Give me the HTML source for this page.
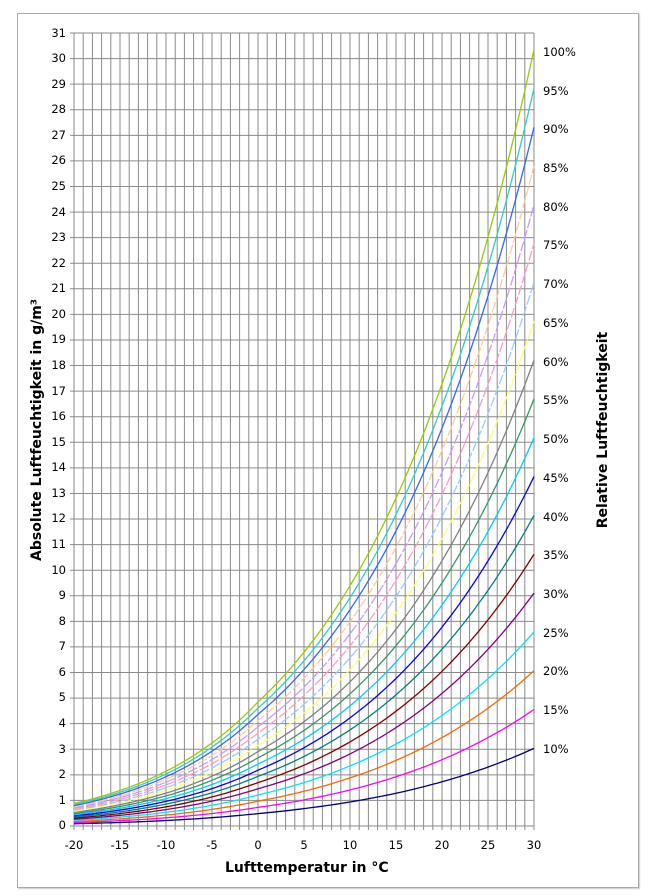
<!DOCTYPE html>
<html><head><meta charset="utf-8"><style>
body{margin:0;background:#fff;font-family:Verdana,"DejaVu Sans",sans-serif;}
#w{position:relative;width:650px;height:895px;}
.frame{position:absolute;left:17px;top:13px;width:620px;height:873px;border:1px solid #aaa;box-shadow:1px 1px 1px #ccc;}
.yl{position:absolute;width:30px;text-align:right;left:36px;font-size:11.5px;}
.xl{position:absolute;top:838px;width:40px;text-align:center;font-size:11.5px;}
.rl{position:absolute;left:543px;font-size:11.5px;}
.t{position:absolute;font-weight:bold;font-size:14px;white-space:nowrap;}
</style></head><body><div id="w">
<div class="frame"></div>
<svg id="s" width="650" height="895" style="position:absolute;left:0;top:0"></svg>
<div class="yl" style="top:26px">31</div><div class="yl" style="top:51px">30</div><div class="yl" style="top:77px">29</div><div class="yl" style="top:102px">28</div><div class="yl" style="top:128px">27</div><div class="yl" style="top:153px">26</div><div class="yl" style="top:179px">25</div><div class="yl" style="top:205px">24</div><div class="yl" style="top:230px">23</div><div class="yl" style="top:256px">22</div><div class="yl" style="top:281px">21</div><div class="yl" style="top:307px">20</div><div class="yl" style="top:332px">19</div><div class="yl" style="top:358px">18</div><div class="yl" style="top:384px">17</div><div class="yl" style="top:409px">16</div><div class="yl" style="top:435px">15</div><div class="yl" style="top:460px">14</div><div class="yl" style="top:486px">13</div><div class="yl" style="top:511px">12</div><div class="yl" style="top:537px">11</div><div class="yl" style="top:563px">10</div><div class="yl" style="top:588px">9</div><div class="yl" style="top:614px">8</div><div class="yl" style="top:639px">7</div><div class="yl" style="top:665px">6</div><div class="yl" style="top:690px">5</div><div class="yl" style="top:716px">4</div><div class="yl" style="top:742px">3</div><div class="yl" style="top:767px">2</div><div class="yl" style="top:793px">1</div><div class="yl" style="top:818px">0</div>
<div class="xl" style="left:54px">-20</div><div class="xl" style="left:100px">-15</div><div class="xl" style="left:146px">-10</div><div class="xl" style="left:192px">-5</div><div class="xl" style="left:238px">0</div><div class="xl" style="left:284px">5</div><div class="xl" style="left:330px">10</div><div class="xl" style="left:376px">15</div><div class="xl" style="left:422px">20</div><div class="xl" style="left:468px">25</div><div class="xl" style="left:514px">30</div>
<div class="rl" style="top:45px">100%</div><div class="rl" style="top:84px">95%</div><div class="rl" style="top:122px">90%</div><div class="rl" style="top:161px">85%</div><div class="rl" style="top:200px">80%</div><div class="rl" style="top:238px">75%</div><div class="rl" style="top:277px">70%</div><div class="rl" style="top:316px">65%</div><div class="rl" style="top:355px">60%</div><div class="rl" style="top:393px">55%</div><div class="rl" style="top:432px">50%</div><div class="rl" style="top:471px">45%</div><div class="rl" style="top:510px">40%</div><div class="rl" style="top:548px">35%</div><div class="rl" style="top:587px">30%</div><div class="rl" style="top:626px">25%</div><div class="rl" style="top:664px">20%</div><div class="rl" style="top:703px">15%</div><div class="rl" style="top:742px">10%</div>
<div class="t" style="left:225px;top:860px">Lufttemperatur in °C</div>
<div class="t" style="left:37px;top:430px;transform:translate(-50%,-50%) rotate(-90deg)">Absolute Luftfeuchtigkeit in g/m³</div>
<div class="t" style="left:603px;top:430px;transform:translate(-50%,-50%) rotate(-90deg)">Relative Luftfeuchtigkeit</div>
</div>
<script>
var s=document.getElementById('s'),L=74,R=534,T=33,B=826,h='';
function X(t){return L+(t+20)*(R-L)/50}function Y(v){return B-v*(B-T)/31}
for(var i=0;i<=50;i++){var x=X(i-20);h+='<line x1="'+x+'" y1="'+T+'" x2="'+x+'" y2="'+(B+4)+'" stroke="#8a8a8a" stroke-width="1"/>';}
for(var j=0;j<=31;j++){var y=Y(j);h+='<line x1="'+(L-4)+'" y1="'+y+'" x2="'+R+'" y2="'+y+'" stroke="#8a8a8a" stroke-width="1"/>';}
function ah(t){var e=t<0?6.112*Math.exp(22.46*t/(272.62+t)):6.112*Math.exp(17.67*t/(t+243.5));return e*216.74/(273.15+t);}
var R2=[10,15,20,25,30,35,40,45,50,55,60,65,70,75,80,85,90,95,100];
var C2=['#000080','#ff00ff','#ff6600','#00e5ff','#800080','#800000','#008080','#0000ff','#00ccff','#339966','#808080','#ffff66','#99ccff','#ff99cc','#cc99ff','#ffcc99','#3366ff','#33cccc','#99cc00'];
for(var k=0;k<R2.length;k++){var p='';for(var t=-20;t<=30;t+=0.5){p+=X(t).toFixed(1)+','+Y(ah(t)*R2[k]/100).toFixed(1)+' ';}
var d=(R2[k]>=65&&R2[k]<=85)?' stroke-dasharray="10,2"':'';
h+='<polyline points="'+p+'" fill="none" stroke="'+C2[k]+'" stroke-width="1.3"'+d+'/>';}
s.innerHTML=h;
</script>
</body></html>
